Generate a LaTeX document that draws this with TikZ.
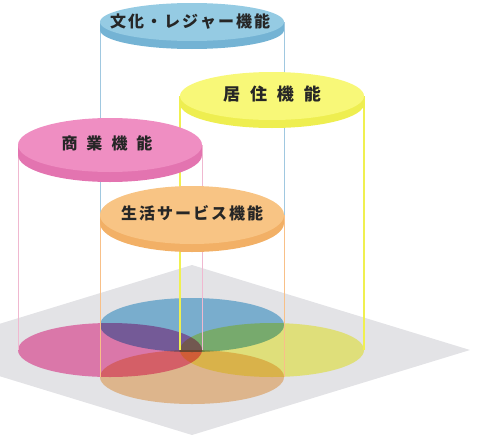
\documentclass[tikz,border=0pt]{standalone}
\usepackage{fontspec}
\newfontfamily\jpfont{Noto Sans CJK JP}
\usetikzlibrary{calc}

\definecolor{floorgrey}{HTML}{E3E3E6}
\definecolor{blueTop}{HTML}{95CBE3}
\definecolor{blueBand}{HTML}{74B3D4}
\definecolor{blueFlr}{HTML}{89C3E4}
\definecolor{bluePole}{HTML}{A0C8E0}
\definecolor{yellowTop}{HTML}{F8F878}
\definecolor{yellowBand}{HTML}{EEEE50}
\definecolor{yellowFlr}{HTML}{FBFB88}
\definecolor{yellowPole}{HTML}{F0F050}
\definecolor{pinkTop}{HTML}{EF8EC2}
\definecolor{pinkBand}{HTML}{E374B0}
\definecolor{pinkFlr}{HTML}{F586BC}
\definecolor{pinkPole}{HTML}{F0B8D0}
\definecolor{orangeTop}{HTML}{F8C484}
\definecolor{orangeBand}{HTML}{F2B066}
\definecolor{orangeFlr}{HTML}{F9CC9C}
\definecolor{orangePole}{HTML}{F8C088}

\newcommand{\gap}[1]{\hspace{#1pt}}

\begin{document}
\begin{tikzpicture}[x=1pt,y=-1pt]
\tikzstyle{flr}=[blend mode=multiply]
\tikzstyle{pole}=[line width=0.9pt]
\tikzstyle{lbl}=[font=\jpfont\bfseries\fontsize{16}{18}\selectfont, text=black!85, inner sep=0pt]
\useasboundingbox (0,0) rectangle (478,439);
\clip (0,0) rectangle (478,439);
% 1. Floor
%%%%%%%%%%
\fill[floorgrey] (192,265) -- (470,350) -- (192,435) -- (-86,350) -- cycle;

\coordinate (blueB) at (192,325);
\coordinate (pinkB) at (110,350);
\coordinate (yellowB) at (272,350);
\coordinate (orangeB) at (192,377);

\coordinate (blueT) at (192,22);
\coordinate (yellowT) at (272,96);
\coordinate (pinkT) at (110,145);
\coordinate (orangeT) at (192,215);

\foreach \n in {blue,pink,yellow,orange}
  \fill[flr, fill=\n Flr] (\n B) ellipse [x radius=92, y radius=27];

% 2. Poles
%%%%%%%%%%
\foreach \n/\w in {blue/0.9,pink/0.9,yellow/1.6,orange/0.9} {
  \draw[pole, draw=\n Pole, line width=\w pt] ($(\n T)+(-92,0)$) -- ($(\n B)+(-92,0)$);
  \draw[pole, draw=\n Pole, line width=\w pt] ($(\n T)+(92,0)$) -- ($(\n B)+(92,0)$);
}

% 3. Discs
%%%%%%%%%%
\foreach \n/\ry/\t in {blue/19/8,yellow/24/8,pink/27/10,orange/29/8} {
  \fill[fill=\n Band] ($(\n T)+(0,\t)$) ellipse [x radius=92, y radius=\ry];
  \fill[fill=\n Band] ($(\n T)+(-92,0)$) rectangle ($(\n T)+(92,\t)$);
  \fill[fill=\n Top] (\n T) ellipse [x radius=92, y radius=\ry];
}

% 4. Labels
%%%%%%%%%%%
\node[lbl] (blueLbl) at ($(blueT)+(-2,-1)$) {文\gap{2}化\gap{2}・\gap{2}レ\gap{2}ジ\gap{2}ャ\gap{2}ー\gap{2}機\gap{2}能};
\node[lbl, font=\jpfont\bfseries\fontsize{17}{19}\selectfont] (yellowLbl) at ($(yellowT)+(0,-2)$) {居\gap{10}住\gap{10}機\gap{10}能};
\node[lbl] (pinkLbl) at ($(pinkT)+(-3,-2)$) {商\gap{9}業\gap{9}機\gap{9}能};
\node[lbl] (orangeLbl) at ($(orangeT)+(0,-2)$) {生\gap{2}活\gap{2}サ\gap{2}ー\gap{2}ビ\gap{2}ス\gap{2}機\gap{2}能};
\end{tikzpicture}
\end{document}
